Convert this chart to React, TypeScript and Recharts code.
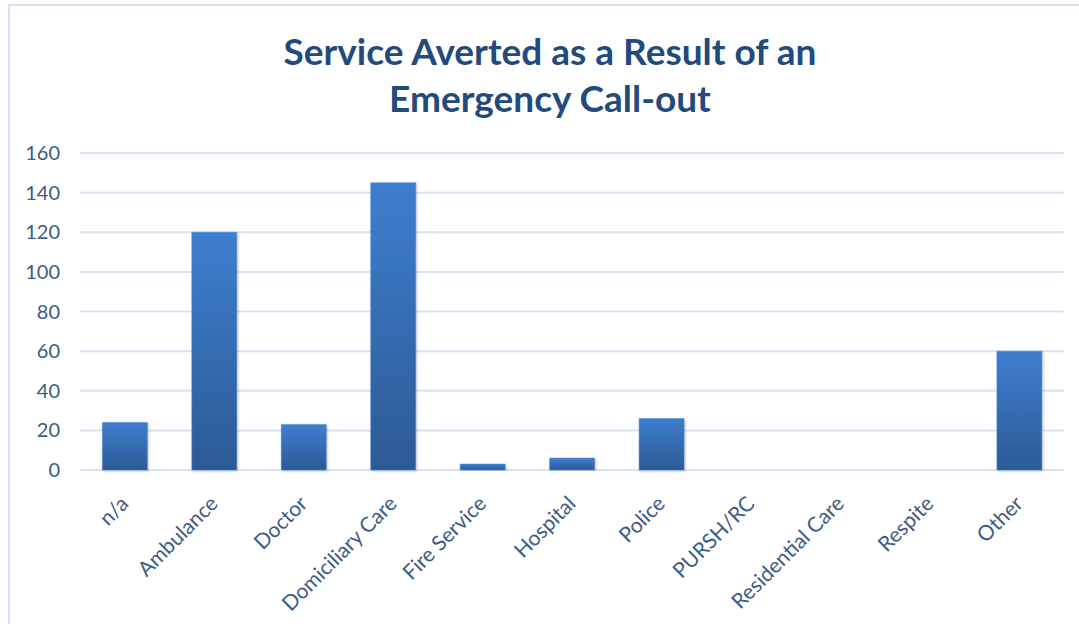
import React from "react";
import { BarChart, Bar, XAxis, YAxis, CartesianGrid } from "recharts";

const categories = [
  "n/a",
  "Ambulance",
  "Doctor",
  "Domiciliary Care",
  "Fire Service",
  "Hospital",
  "Police",
  "PURSH/RC",
  "Residential Care",
  "Respite",
  "Other",
];
const counts = [24, 120, 23, 145, 3, 6, 26, 0, 0, 0, 60];
const yTicks = [0, 20, 40, 60, 80, 100, 120, 140, 160];
const titleLines = ["Service Averted as a Result of an", "Emergency Call-out"];

const data = categories.map((c, i) => ({ name: c, value: counts[i] }));

const TEXT = "#3d5b86";
const FONT = "Lato, 'Open Sans', sans-serif";

const XTick = (props: any) => {
  const { x, y, payload } = props;
  return (
    <text
      x={x + 5}
      y={y + 27}
      transform={`rotate(-45, ${x + 5}, ${y + 27})`}
      textAnchor="end"
      fill={TEXT}
      fontSize={21}
      fontFamily={FONT}
    >
      {payload.value}
    </text>
  );
};

export default function App() {
  return (
    <div style={{ position: "absolute", left: 0, top: 0, width: 1079, height: 624, background: "#fff", overflow: "hidden" }}>
      <div
        style={{
          position: "absolute",
          left: 8,
          top: 4,
          width: 1200,
          height: 800,
          border: "2px solid #d6e3f4",
          boxSizing: "border-box",
        }}
      />
      <div
        style={{
          position: "absolute",
          left: 0,
          top: 27,
          width: 1100,
          textAlign: "center",
          fontFamily: FONT,
          fontWeight: 700,
          fontSize: 37,
          lineHeight: "47px",
          color: "#234a7c",
        }}
      >
        {titleLines.map((l, i) => (
          <div key={i}>{l}</div>
        ))}
      </div>
      <div style={{ position: "absolute", left: 0, top: 0 }}>
        <BarChart
          width={1079}
          height={624}
          data={data}
          margin={{ top: 153, right: 15, bottom: 4, left: 0 }}
          barCategoryGap="25%"
        >
          <defs>
            <linearGradient id="barGrad" x1="0" y1="0" x2="0" y2="1">
              <stop offset="0%" stopColor="#3e7ecf" />
              <stop offset="100%" stopColor="#2c5a95" />
            </linearGradient>
            <filter id="shadow" x="-20%" y="-5%" width="140%" height="110%">
              <feDropShadow dx="1" dy="1" stdDeviation="1.2" floodColor="#000" floodOpacity="0.25" />
            </filter>
          </defs>
          <CartesianGrid vertical={false} stroke="#d7e3f3" strokeWidth={2} />
          <XAxis
            dataKey="name"
            axisLine={false}
            tickLine={false}
            interval={0}
            height={150}
            tick={<XTick />}
          />
          <YAxis
            domain={[0, 160]}
            ticks={yTicks}
            axisLine={false}
            tickLine={false}
            tickSize={0}
            tickMargin={20}
            width={80}
            tick={{ fill: TEXT, fontSize: 20, fontFamily: FONT }}
          />
          <Bar
            dataKey="value"
            fill="url(#barGrad)"
            stroke="#4a86d0"
            strokeWidth={0.5}
            filter="url(#shadow)"
            isAnimationActive={false}
          />
        </BarChart>
      </div>
    </div>
  );
}
